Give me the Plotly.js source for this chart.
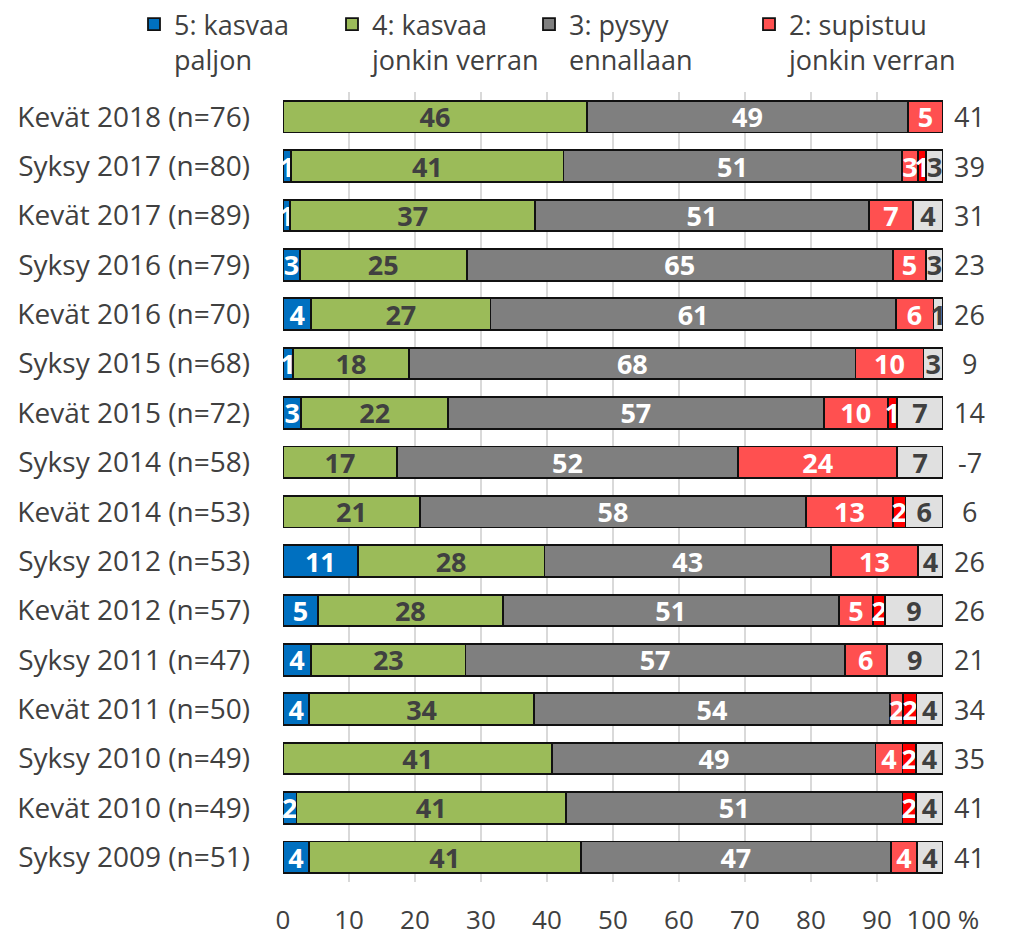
<!DOCTYPE html>
<html>
<head>
<meta charset="utf-8">
<script src="https://cdn.plot.ly/plotly-3.0.1.min.js"></script>
<style>html,body{margin:0;padding:0;background:#fff;}#chart{width:1010px;height:937px;}</style>
</head>
<body>
<div id="chart"></div>
<script>
const categories = ["Kevät 2018 (n=76)","Syksy 2017 (n=80)","Kevät 2017 (n=89)","Syksy 2016 (n=79)","Kevät 2016 (n=70)","Syksy 2015 (n=68)","Kevät 2015 (n=72)","Syksy 2014 (n=58)","Kevät 2014 (n=53)","Syksy 2012 (n=53)","Kevät 2012 (n=57)","Syksy 2011 (n=47)","Kevät 2011 (n=50)","Syksy 2010 (n=49)","Kevät 2010 (n=49)","Syksy 2009 (n=51)"];
const kasvaaPaljon   = [null,1.25,1.12,2.53,4.29,1.47,2.78,null,null,11.32,5.26,4.26,4,null,2.04,3.92];
const kasvaaJonkin   = [46.05,41.25,37.08,25.32,27.14,17.65,22.22,17.24,20.75,28.30,28.07,23.40,34,40.82,40.82,41.18];
const pysyy          = [48.68,51.25,50.56,64.56,61.43,67.65,56.94,51.72,58.49,43.40,50.88,57.45,54,48.98,51.02,47.06];
const supistuuJonkin = [5.26,2.5,6.74,5.06,5.71,10.29,9.72,24.14,13.21,13.21,5.26,6.38,2,4.08,null,3.92];
const supistuuPaljon = [null,1.25,null,null,null,null,1.39,null,1.89,null,1.75,null,2,2.04,2.04,null];
const eiOsaaSanoa    = [null,2.5,4.49,2.53,1.43,2.94,6.94,6.90,5.66,3.77,8.77,8.51,4,4.08,4.08,3.92];
const saldo          = [41,39,31,23,26,9,14,-7,6,26,26,21,34,35,41,41];
const seriesNames = ["5: kasvaa<br>paljon","4: kasvaa<br>jonkin verran","3: pysyy<br>ennallaan","2: supistuu<br>jonkin verran","1: supistuu paljon","En osaa sanoa"];
const xTickVals = [0,10,20,30,40,50,60,70,80,90,100];
const xTickText = ["0","10","20","30","40","50","60","70","80","90","100 %"];

const FONT = "'Open Sans', sans-serif";
const TXT = "#404040";
const seriesData = [kasvaaPaljon,kasvaaJonkin,pysyy,supistuuJonkin,supistuuPaljon,eiOsaaSanoa];
const colors = ["#0070C0","#9BBB59","#7F7F7F","#FF5050","#FF0000","#E0E0E0"];
const textColors = ["#FFFFFF",TXT,"#FFFFFF","#FFFFFF","#FFFFFF",TXT];
const legendIds = ["legend","legend2","legend3","legend4",null,null];

const traces = seriesData.map((vals,i)=>{
  const t = {
    type:"bar", orientation:"h", name:seriesNames[i],
    y:categories, x:vals,
    marker:{color:colors[i], line:{color:"#111111", width:1.8}},
    text: vals.map(v=> v==null ? "" : String(Math.round(v))),
    textposition:"inside", insidetextanchor:"middle", textangle:0,
    constraintext:"none", cliponaxis:false,
    textfont:{family:FONT, size:27, color:textColors[i], weight:"bold"},
    hoverinfo:"x+y+name",
    showlegend: legendIds[i]!==null
  };
  if (legendIds[i]) t.legend = legendIds[i];
  return t;
});

const legendX = [134,332,529,749];
const mkLegend = (x)=>({
  xref:"container", yref:"container", x:x/1010, y:1, xanchor:"left", yanchor:"top",
  orientation:"h", bgcolor:"rgba(0,0,0,0)", borderwidth:0, valign:"top",
  font:{family:FONT, size:27, color:TXT}, itemclick:false, itemdoubleclick:false, tracegroupgap:0
});

const annotations = saldo.map((s,i)=>({
  xref:"x", yref:"y", x:100, y:categories[i], xshift:27, xanchor:"center", yanchor:"middle",
  text:String(s), showarrow:false, font:{family:FONT, size:27, color:TXT}
}));

const layout = {
  width:1010, height:937,
  margin:{l:283, r:67, t:92, b:55, pad:0},
  paper_bgcolor:"#ffffff", plot_bgcolor:"#ffffff",
  barmode:"stack", bargap:0.36,
  font:{family:FONT, color:TXT},
  xaxis:{range:[0,100.02], tickvals:xTickVals, ticktext:xTickText, showgrid:true, gridcolor:"#D9D9D9", gridwidth:1.5,
         zeroline:false, showline:false, ticks:"", ticklabelstandoff:20, tickfont:{family:FONT, size:26, color:TXT}, fixedrange:true},
  yaxis:{type:"category", autorange:"reversed", showgrid:false, zeroline:false, showline:false, ticks:"",
         ticklabelstandoff:32, tickfont:{family:FONT, size:28, color:TXT}, fixedrange:true},
  legend:mkLegend(legendX[0]), legend2:mkLegend(legendX[1]), legend3:mkLegend(legendX[2]), legend4:mkLegend(legendX[3]),
  annotations:annotations,
  showlegend:true
};

Plotly.newPlot("chart", traces, layout, {displayModeBar:false, staticPlot:false});
</script>
</body>
</html>
